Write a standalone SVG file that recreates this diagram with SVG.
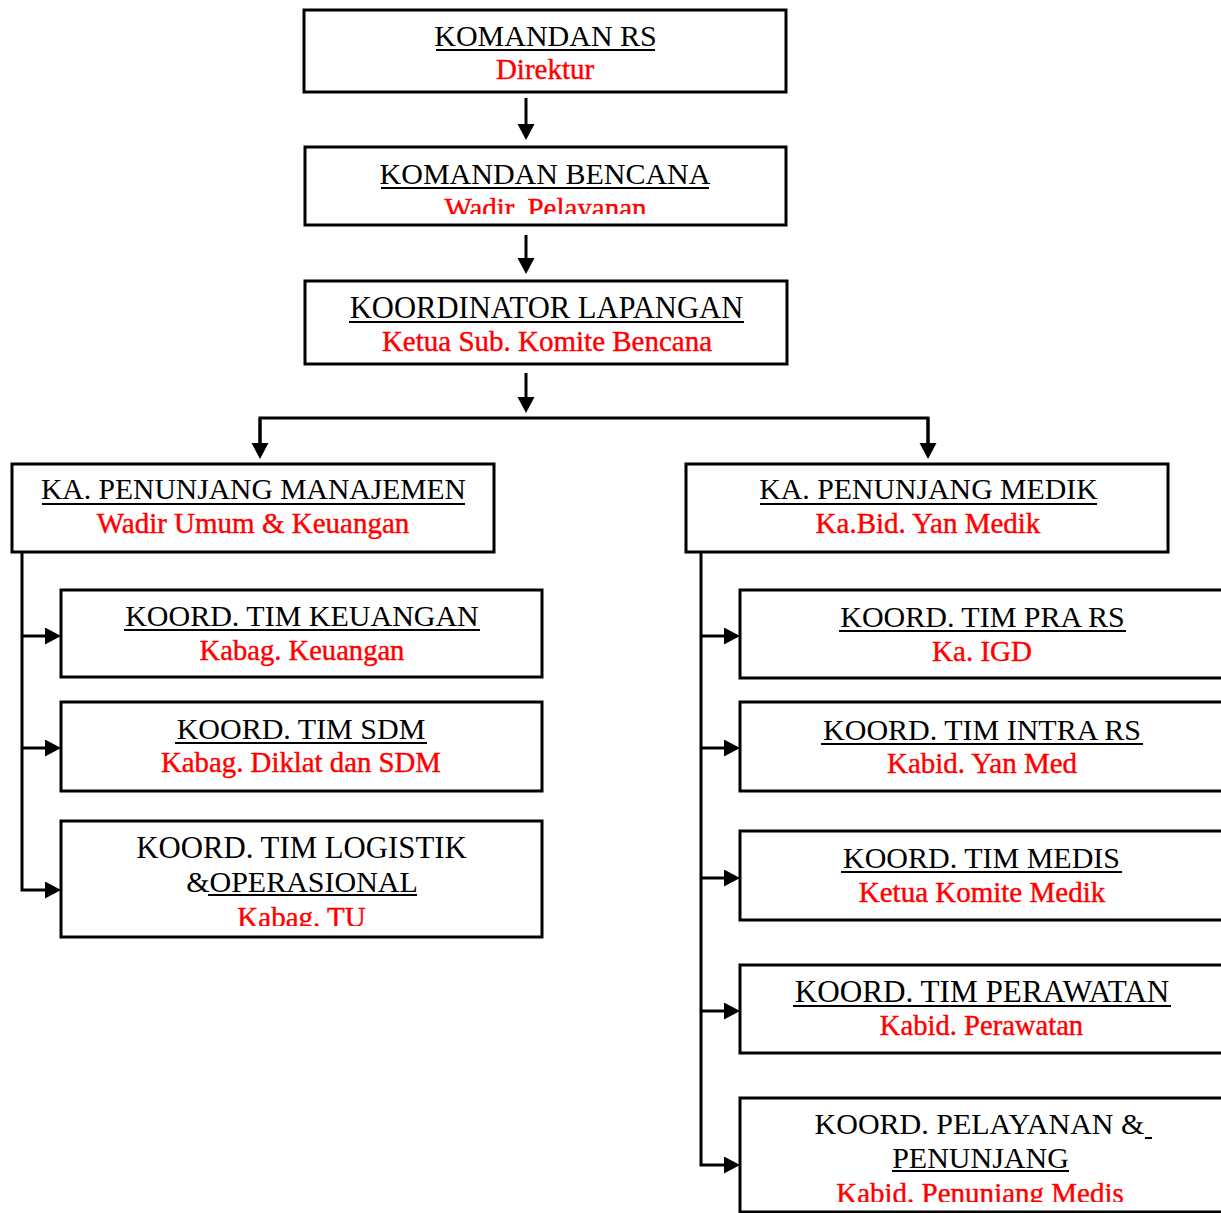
<svg xmlns="http://www.w3.org/2000/svg" width="1221" height="1213" viewBox="0 0 1221 1213">
<style>
.box{fill:#fff;stroke:#000;stroke-width:3}
.r{fill:#ff0000;stroke:#ff0000;stroke-width:0.4}
.u{stroke:#000;stroke-width:2}
.c{fill:none;stroke:#000;stroke-width:3}
</style>
<defs>
<marker id="ah" markerUnits="userSpaceOnUse" markerWidth="18" markerHeight="18" refX="8" refY="8.5" orient="auto" viewBox="0 0 18 18">
<path d="M0,0 L16,8.5 L0,17 z" fill="#000"/>
</marker>
<clipPath id="cp2"><rect x="305" y="148" width="480" height="66"/></clipPath>
<clipPath id="cpL3"><rect x="62" y="822" width="479" height="104"/></clipPath>
<clipPath id="cpR5"><rect x="741" y="1098" width="480" height="104"/></clipPath>
</defs>
<g id="connectors">
<line class="c" x1="526" y1="98" x2="526" y2="132" marker-end="url(#ah)"/>
<line class="c" x1="526" y1="235" x2="526" y2="266" marker-end="url(#ah)"/>
<line class="c" x1="526" y1="373" x2="526" y2="405" marker-end="url(#ah)"/>
<polyline class="c" points="260,451 260,418 928,418 928,451"/>
<line class="c" x1="260" y1="418" x2="260" y2="451" marker-end="url(#ah)"/>
<line class="c" x1="928" y1="418" x2="928" y2="451" marker-end="url(#ah)"/>
<polyline class="c" points="22,553 22,890 53,890" marker-end="url(#ah)"/>
<line class="c" x1="22" y1="636" x2="53" y2="636" marker-end="url(#ah)"/>
<line class="c" x1="22" y1="748" x2="53" y2="748" marker-end="url(#ah)"/>
<polyline class="c" points="701,553 701,1165 732,1165" marker-end="url(#ah)"/>
<line class="c" x1="701" y1="636" x2="732" y2="636" marker-end="url(#ah)"/>
<line class="c" x1="701" y1="748" x2="732" y2="748" marker-end="url(#ah)"/>
<line class="c" x1="701" y1="878" x2="732" y2="878" marker-end="url(#ah)"/>
<line class="c" x1="701" y1="1011" x2="732" y2="1011" marker-end="url(#ah)"/>
</g>
<g id="komandan-rs">
<rect class="box" x="304" y="10" width="482" height="82"/>
<text font-family="Liberation Serif" font-size="30" text-anchor="middle" x="545.5" y="46">KOMANDAN RS</text>
<line class="u" x1="436" y1="50" x2="655" y2="50"/>
<text class="r" font-family="Liberation Serif" font-size="29" text-anchor="middle" x="545" y="79">Direktur</text>
</g>
<g id="komandan-bencana">
<rect class="box" x="305" y="147" width="481" height="78"/>
<text font-family="Liberation Serif" font-size="30" text-anchor="middle" x="545" y="184">KOMANDAN BENCANA</text>
<line class="u" x1="381" y1="188" x2="709" y2="188"/>
<text class="r" font-family="Liberation Serif" font-size="29" text-anchor="middle" x="545.5" y="218" clip-path="url(#cp2)">Wadir. Pelayanan</text>
</g>
<g id="koordinator-lapangan">
<rect class="box" x="305" y="281" width="482" height="83"/>
<text font-family="Liberation Serif" font-size="30.6" text-anchor="middle" x="546.5" y="318">KOORDINATOR LAPANGAN</text>
<line class="u" x1="349" y1="322" x2="744" y2="322"/>
<text class="r" font-family="Liberation Serif" font-size="29" text-anchor="middle" x="547" y="351">Ketua Sub. Komite Bencana</text>
</g>
<g id="ka-penunjang-manajemen">
<rect class="box" x="12" y="464" width="482" height="88"/>
<text font-family="Liberation Serif" font-size="29.6" text-anchor="middle" x="253.5" y="499">KA. PENUNJANG MANAJEMEN</text>
<line class="u" x1="42" y1="504" x2="465" y2="504"/>
<text class="r" font-family="Liberation Serif" font-size="29" text-anchor="middle" x="253" y="533">Wadir Umum &amp; Keuangan</text>
</g>
<g id="ka-penunjang-medik">
<rect class="box" x="686" y="464" width="482" height="88"/>
<text font-family="Liberation Serif" font-size="29.8" text-anchor="middle" x="928.5" y="499">KA. PENUNJANG MEDIK</text>
<line class="u" x1="760" y1="504" x2="1097" y2="504"/>
<text class="r" font-family="Liberation Serif" font-size="29" text-anchor="middle" x="928" y="533">Ka.Bid. Yan Medik</text>
</g>
<g id="koord-tim-keuangan">
<rect class="box" x="61" y="590" width="481" height="87"/>
<text font-family="Liberation Serif" font-size="30" text-anchor="middle" x="302" y="626">KOORD. TIM KEUANGAN</text>
<line class="u" x1="124" y1="630" x2="480" y2="630"/>
<text class="r" font-family="Liberation Serif" font-size="28.6" text-anchor="middle" x="302" y="660">Kabag. Keuangan</text>
</g>
<g id="koord-tim-sdm">
<rect class="box" x="61" y="702" width="481" height="89"/>
<text font-family="Liberation Serif" font-size="30" text-anchor="middle" x="301" y="739">KOORD. TIM SDM</text>
<line class="u" x1="175" y1="743" x2="427" y2="743"/>
<text class="r" font-family="Liberation Serif" font-size="28.8" text-anchor="middle" x="301" y="772">Kabag. Diklat dan SDM</text>
</g>
<g id="koord-tim-logistik">
<rect class="box" x="61" y="821" width="481" height="116"/>
<text font-family="Liberation Serif" font-size="30.8" text-anchor="middle" x="301.5" y="858">KOORD. TIM LOGISTIK</text>
<text font-family="Liberation Serif" font-size="30" text-anchor="middle" x="302" y="892">&amp;OPERASIONAL</text>
<line class="u" x1="208" y1="895" x2="417" y2="895"/>
<text class="r" font-family="Liberation Serif" font-size="29" text-anchor="middle" x="301.5" y="927" clip-path="url(#cpL3)">Kabag. TU</text>
</g>
<g id="koord-tim-pra-rs">
<rect class="box" x="740" y="590" width="484" height="88"/>
<text font-family="Liberation Serif" font-size="30" text-anchor="middle" x="982.5" y="627">KOORD. TIM PRA RS</text>
<line class="u" x1="839" y1="631" x2="1126" y2="631"/>
<text class="r" font-family="Liberation Serif" font-size="29" text-anchor="middle" x="982" y="661">Ka. IGD</text>
</g>
<g id="koord-tim-intra-rs">
<rect class="box" x="740" y="702" width="484" height="89"/>
<text font-family="Liberation Serif" font-size="30" text-anchor="middle" x="982" y="740">KOORD. TIM INTRA RS</text>
<line class="u" x1="821" y1="744" x2="1143" y2="744"/>
<text class="r" font-family="Liberation Serif" font-size="29" text-anchor="middle" x="982" y="773">Kabid. Yan Med</text>
</g>
<g id="koord-tim-medis">
<rect class="box" x="740" y="831" width="484" height="89"/>
<text font-family="Liberation Serif" font-size="30" text-anchor="middle" x="981.5" y="868">KOORD. TIM MEDIS</text>
<line class="u" x1="841" y1="872" x2="1122" y2="872"/>
<text class="r" font-family="Liberation Serif" font-size="29" text-anchor="middle" x="982" y="902">Ketua Komite Medik</text>
</g>
<g id="koord-tim-perawatan">
<rect class="box" x="740" y="965" width="484" height="88"/>
<text font-family="Liberation Serif" font-size="31.2" text-anchor="middle" x="982" y="1002">KOORD. TIM PERAWATAN</text>
<line class="u" x1="793" y1="1006" x2="1171" y2="1006"/>
<text class="r" font-family="Liberation Serif" font-size="28.6" text-anchor="middle" x="981.5" y="1035">Kabid. Perawatan</text>
</g>
<g id="koord-pelayanan-penunjang">
<rect class="box" x="740" y="1098" width="484" height="114"/>
<text font-family="Liberation Serif" font-size="30" text-anchor="middle" x="979.5" y="1134">KOORD. PELAYANAN &amp;</text>
<line class="u" x1="1145" y1="1138" x2="1152" y2="1138"/>
<text font-family="Liberation Serif" font-size="30" text-anchor="middle" x="980.5" y="1168">PENUNJANG</text>
<line class="u" x1="892" y1="1171" x2="1069" y2="1171"/>
<text class="r" font-family="Liberation Serif" font-size="29" text-anchor="middle" x="980" y="1203" clip-path="url(#cpR5)">Kabid. Penunjang Medis</text>
</g>
</svg>
